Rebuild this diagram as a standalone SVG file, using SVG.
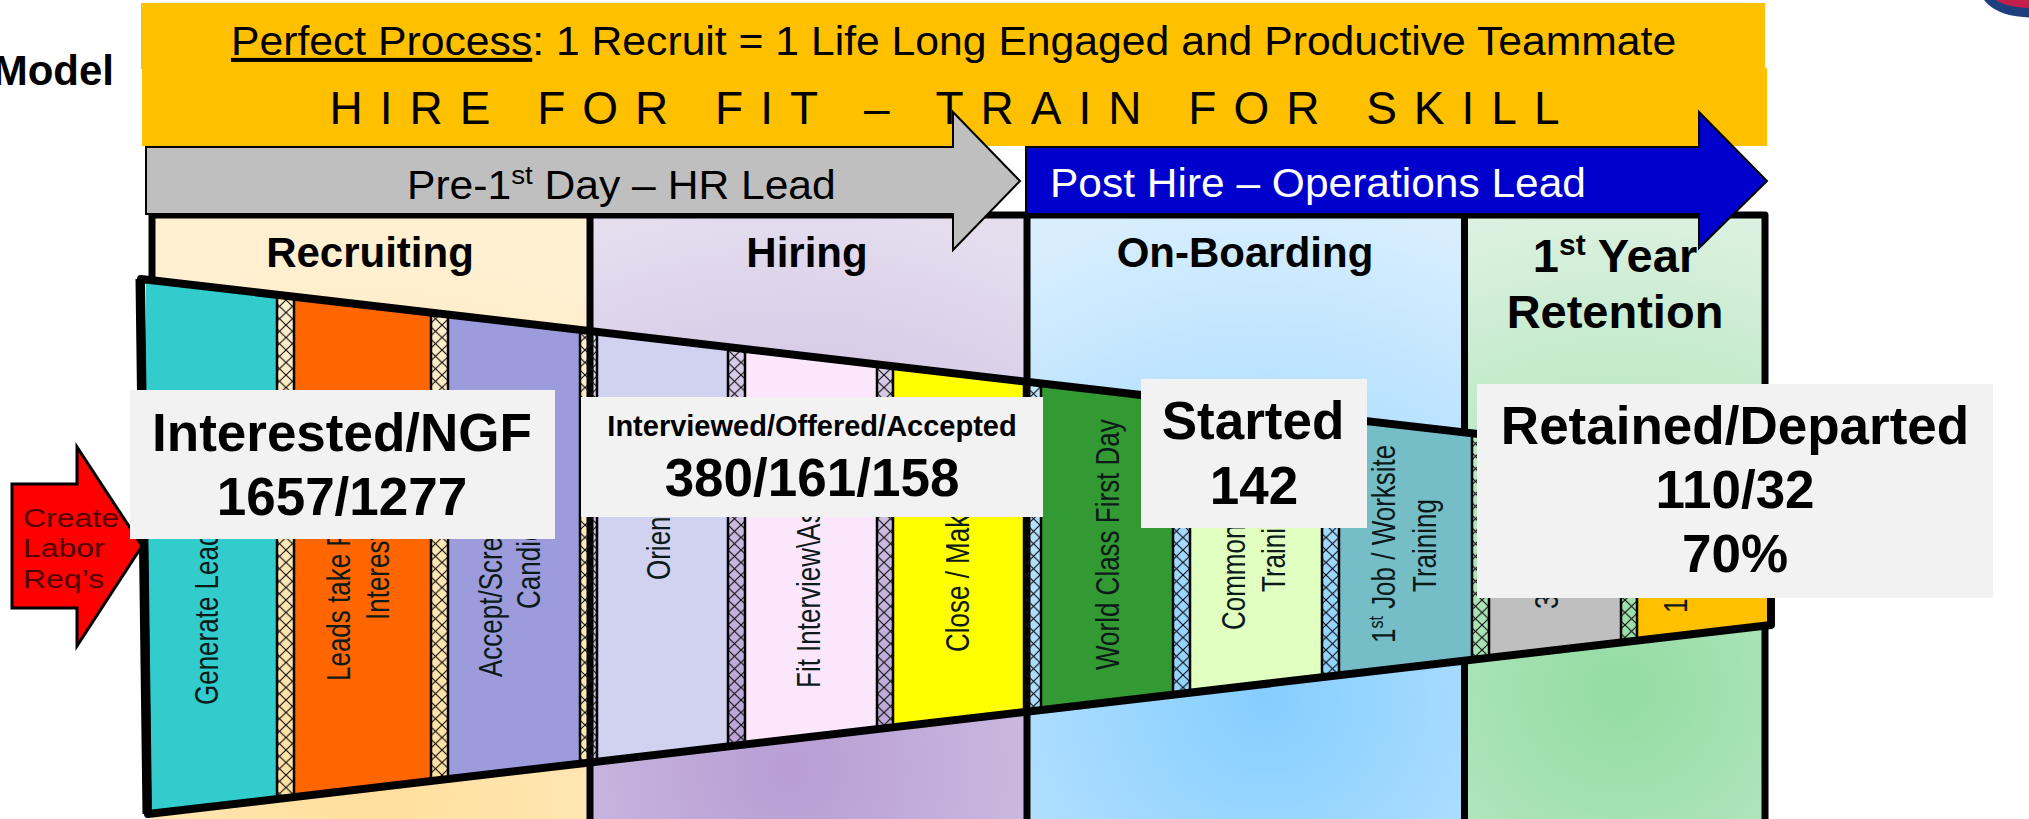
<svg xmlns="http://www.w3.org/2000/svg" width="2029" height="819" viewBox="0 0 2029 819">
<style>
text{font-family:"Liberation Sans",Arial,sans-serif;fill:#000}
.c{text-anchor:middle}
.b{font-weight:700}
.t{font-size:42px;font-weight:700;text-anchor:middle}
.n{font-size:53px;font-weight:700;text-anchor:middle}
.v{font-size:26px;fill:#0c1a1a}
.k{fill:none;stroke:#000;stroke-width:7}
.box{fill:#f2f2f2}
.gap{fill:url(#hatch);stroke:#000;stroke-width:2.5}
</style>
<defs>
<pattern id="hatch" width="13" height="12.5" patternUnits="userSpaceOnUse">
<path d="M0 0L13 12.5M13 0L0 12.5" stroke="#111" stroke-width="1.2" fill="none"/>
</pattern>
<radialGradient id="g1" gradientUnits="userSpaceOnUse" cx="370" cy="800" r="560"><stop offset="0" stop-color="#ffdf9c"/><stop offset="1" stop-color="#fff0d2"/></radialGradient>
<radialGradient id="g2" gradientUnits="userSpaceOnUse" cx="790" cy="770" r="570"><stop offset="0" stop-color="#b79dd4"/><stop offset="1" stop-color="#e5deef"/></radialGradient>
<radialGradient id="g3" gradientUnits="userSpaceOnUse" cx="1265" cy="700" r="500"><stop offset="0" stop-color="#85ceff"/><stop offset="1" stop-color="#d8eeff"/></radialGradient>
<radialGradient id="g4" gradientUnits="userSpaceOnUse" cx="1620" cy="690" r="500"><stop offset="0" stop-color="#92dca2"/><stop offset="1" stop-color="#def2e2"/></radialGradient>
<clipPath id="fc"><polygon points="141,279 1771,468 1771,625 148,814"/></clipPath>
</defs>

<g id="phase-panels">
<rect x="152" y="215" width="438" height="604" fill="url(#g1)"/>
<rect x="590" y="215" width="437" height="604" fill="url(#g2)"/>
<rect x="1027" y="215" width="438" height="604" fill="url(#g3)"/>
<rect x="1465" y="215" width="300" height="604" fill="url(#g4)"/>
<path class="k" stroke-linejoin="round" d="M152 540V215H1765V819"/>
<path class="k" d="M590 215V819M1027 215V819M1464.500 215V819"/>
</g>
<g id="phase-titles">
<text class="t" x="370" y="267">Recruiting</text>
<text class="t" x="807" y="267">Hiring</text>
<text class="t" x="1245" y="267">On-Boarding</text>
<text class="t" x="1615" y="272" style="font-size:47px">1<tspan font-size="30" dy="-17">st</tspan><tspan dy="17"> Year</tspan></text>
<text class="t" x="1615" y="328" style="font-size:47px">Retention</text>
</g>

<g id="funnel">
<g clip-path="url(#fc)">
<rect x="146" y="270" width="131" height="560" fill="#33cccc"/>
<rect x="294" y="270" width="137" height="560" fill="#ff6600"/>
<rect x="448" y="270" width="132" height="560" fill="#9c9cdc"/>
<rect x="597" y="270" width="131" height="560" fill="#d0d2f0"/>
<rect x="745" y="270" width="132" height="560" fill="#fce6fc"/>
<rect x="893" y="270" width="131" height="560" fill="#ffff00"/>
<rect x="1041" y="270" width="132" height="560" fill="#339933"/>
<rect x="1190" y="270" width="132" height="560" fill="#e0ffc0"/>
<rect x="1339" y="270" width="132" height="560" fill="#75bec8"/>
<rect x="1489" y="270" width="132" height="560" fill="#bfbfbf"/>
<rect x="1637" y="270" width="134" height="560" fill="#ffc000"/>
<rect class="gap" x="277" y="270" width="17" height="560"/>
<rect class="gap" x="431" y="270" width="17" height="560"/>
<rect class="gap" x="580" y="270" width="17" height="560"/>
<rect class="gap" x="728" y="270" width="17" height="560"/>
<rect class="gap" x="877" y="270" width="16" height="560"/>
<rect class="gap" x="1024" y="270" width="17" height="560"/>
<rect class="gap" x="1173" y="270" width="17" height="560"/>
<rect class="gap" x="1322" y="270" width="17" height="560"/>
<rect class="gap" x="1472" y="270" width="17" height="560"/>
<rect class="gap" x="1621" y="270" width="16" height="560"/>
</g>
<polygon points="141,279 1771,468 1771,625 148,814" fill="none" stroke="#000" stroke-width="8" stroke-linejoin="round"/>
<path d="M140 279L147 814" fill="none" stroke="#000" stroke-width="9"/>
<text class="v" transform="translate(218 705) rotate(-90) scale(1 1.3)">Generate Lead</text>
<text class="v" transform="translate(350 681) rotate(-90) scale(1 1.3)">Leads take P</text>
<text class="v" transform="translate(389 620) rotate(-90) scale(1 1.3)">Interest</text>
<text class="v" transform="translate(502 677) rotate(-90) scale(1 1.3)">Accept/Scre</text>
<text class="v" transform="translate(540 609) rotate(-90) scale(1 1.3)">Candid</text>
<text class="v" transform="translate(670 580) rotate(-90) scale(1 1.3)">Orien</text>
<text class="v" transform="translate(820 688) rotate(-90) scale(1 1.3)">Fit Interview\As</text>
<text class="v" transform="translate(969 652) rotate(-90) scale(1 1.3)">Close / Mak</text>
<text class="v" transform="translate(1119 670) rotate(-90) scale(1 1.3)">World Class First Day</text>
<text class="v" transform="translate(1245 630) rotate(-90) scale(1 1.3)">Common</text>
<text class="v" transform="translate(1285 592) rotate(-90) scale(1 1.3)">Traini</text>
<text class="v" transform="translate(1395 643) rotate(-90) scale(1 1.3)">1<tspan font-size="16" dy="-9">st</tspan><tspan dy="9"> Job / Worksite</tspan></text>
<text class="v" transform="translate(1436 592) rotate(-90) scale(1 1.3)">Training</text>
<text class="v" transform="translate(1558 609) rotate(-90) scale(1 1.3)">3</text>
<text class="v" transform="translate(1687 613) rotate(-90) scale(1 1.3)">1<tspan font-size="16" dy="-9">s</tspan></text>
</g>

<g id="banner-process">
<rect x="141" y="3" width="1624" height="66" fill="#ffc000"/>
<text transform="translate(231 55) scale(1.067 1)" font-size="40"><tspan text-decoration="underline">Perfect Process</tspan>: 1 Recruit = 1 Life Long Engaged and Productive Teammate</text>
</g>
<g id="banner-hire">
<rect x="142" y="68" width="1625" height="78" fill="#ffc000"/>
<text x="329.500" y="124" font-size="46" letter-spacing="17">HIRE FOR FIT – TRAIN FOR SKILL</text>
</g>

<g id="arrow-pre">
<polygon points="146,147 953,147 953,112 1020,181 953,250 953,214 146,214" fill="#bfbfbf" stroke="#000" stroke-width="2"/>
<text transform="translate(407 199) scale(1.065 1)" font-size="40">Pre-1<tspan font-size="26" dy="-15">st</tspan><tspan dy="15"> Day – HR Lead</tspan></text>
</g>
<g id="arrow-post">
<polygon points="1026,147 1699,147 1699,112 1767,181 1699,248 1699,214 1026,214" fill="#0000cc" stroke="#000" stroke-width="2"/>
<text transform="translate(1050 197) scale(1.062 1)" font-size="40" style="fill:#fff">Post Hire – Operations Lead</text>
</g>
<g id="arrow-labor">
<polygon points="12,484 77,484 77,447 142,546 77,646 77,608 12,608" fill="#ff0000" stroke="#000" stroke-width="3"/>
<text transform="translate(23 527) scale(1.23 1)" font-size="26" style="fill:#500000">Create</text>
<text transform="translate(23 557) scale(1.23 1)" font-size="26" style="fill:#500000">Labor</text>
<text transform="translate(23 588) scale(1.23 1)" font-size="26" style="fill:#500000">Req’s</text>
</g>

<g id="model-label"><text x="114" y="85" font-size="42" class="b" text-anchor="end">Model</text></g>
<g id="logo-fragment">
<path d="M1984 0Q1996 15 2023 17L2029 17.500V0Z" fill="#1c3f7d"/>
<path d="M1996 0Q2006 7 2029 8V0Z" fill="#c21f4a"/>
</g>

<g id="stat-interested">
<rect class="box" x="130" y="390" width="425" height="149"/>
<text class="n" x="342" y="451">Interested/NGF</text>
<text class="n" x="342" y="515">1657/1277</text>
</g>
<g id="stat-interviewed">
<rect class="box" x="581" y="397" width="462" height="120"/>
<text class="b c" x="812" y="436" font-size="29">Interviewed/Offered/Accepted</text>
<text class="n" x="812" y="496">380/161/158</text>
</g>
<g id="stat-started">
<rect class="box" x="1141" y="379" width="226" height="149"/>
<text class="n" x="1253" y="439">Started</text>
<text class="n" x="1254" y="504">142</text>
</g>
<g id="stat-retained">
<rect class="box" x="1477" y="384" width="516" height="214"/>
<text class="n" x="1735" y="444">Retained/Departed</text>
<text class="n" x="1735" y="508">110/32</text>
<text class="n" x="1735" y="572">70%</text>
</g>
</svg>
